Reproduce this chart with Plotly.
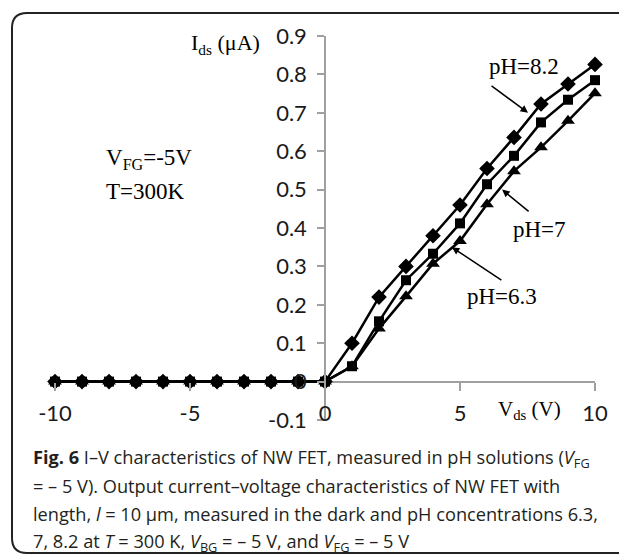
import plotly.graph_objects as go

# I-V data (V_ds in volts, I_ds in uA)
vds = [-10, -9, -8, -7, -6, -5, -4, -3, -2, -1, 0, 1, 2, 3, 4, 5, 6, 7, 8, 9, 10]
ids_ph82 = [0, 0, 0, 0, 0, 0, 0, 0, 0, 0, 0,
            0.10, 0.22, 0.30, 0.38, 0.46, 0.555, 0.636, 0.723, 0.775, 0.826]
ids_ph7 = [0, 0, 0, 0, 0, 0, 0, 0, 0, 0, 0,
           0.04, 0.157, 0.264, 0.333, 0.412, 0.514, 0.588, 0.675, 0.734, 0.785]
ids_ph63 = [0, 0, 0, 0, 0, 0, 0, 0, 0, 0, 0,
            0.04, 0.138, 0.222, 0.307, 0.366, 0.462, 0.548, 0.61, 0.679, 0.751]

xtick_vals = [-10, -5, 0, 5, 10]
xtick_text = ["-10", "-5", "0", "5", "10"]
ytick_vals = [-0.1, 0, 0.1, 0.2, 0.3, 0.4, 0.5, 0.6, 0.7, 0.8, 0.9]
ytick_text = ["-0.1", "0", "0.1", "0.2", "0.3", "0.4", "0.5", "0.6", "0.7", "0.8", "0.9"]

caption = [
    "<b>Fig. 6</b> I–V characteristics of NW FET, measured in pH solutions (<i>V</i><sub>FG</sub>",
    "= – 5 V). Output current–voltage characteristics of NW FET with",
    "length, <i>l</i> = 10 μm, measured in the dark and pH concentrations 6.3,",
    "7, 8.2 at <i>T</i> = 300 K, <i>V</i><sub>BG</sub> = – 5 V, and <i>V</i><sub>FG</sub> = – 5 V",
]

# page body adds an 8px margin, so the figure is 8px smaller and shifted
OFF = 8
W, H = 627 - OFF, 557 - OFF
ML, MT = 55 - OFF, 36 - OFF
PW, PH = 540, 384
MR, MB = W - ML - PW, H - MT - PH
GRAY = "#a0a0a0"
SERIF = "Liberation Serif"
TICKFONT = dict(family="Lato", size=22, color="#1a1a1a")


def px(x):  # window pixel -> paper x
    return (x - OFF - ML) / PW


def py(y):  # window pixel -> paper y
    return (MT + PH - (y - OFF)) / PH


fig = go.Figure()
for ys, sym, size in [(ids_ph82, "diamond", 12), (ids_ph7, "square", 10), (ids_ph63, "triangle-up", 12)]:
    fig.add_trace(go.Scatter(x=vds, y=ys, mode="lines+markers",
                             line=dict(color="black", width=2.5),
                             marker=dict(symbol=sym, size=size, color="black"),
                             cliponaxis=False, showlegend=False))
# empty trace so the tick-label axis is drawn
fig.add_trace(go.Scatter(x=[], y=[], xaxis="x2", showlegend=False))

fig.update_layout(
    width=W, height=H,
    margin=dict(l=ML, r=MR, t=MT, b=MB),
    plot_bgcolor="white", paper_bgcolor="white",
    xaxis=dict(range=[-10, 10], anchor="free", position=0.1,
               tickvals=xtick_vals, ticks="outside", ticklen=8, tickcolor=GRAY, tickwidth=1.5,
               showticklabels=False, showgrid=False, zeroline=False, showline=False),
    xaxis2=dict(range=[-10, 10], overlaying="x", anchor="free", position=0.058, side="bottom",
                tickvals=xtick_vals, ticktext=xtick_text, ticks="", tickfont=TICKFONT,
                showgrid=False, zeroline=False, showline=False),
    yaxis=dict(range=[-0.1, 0.9], anchor="free", position=0.5,
               tickvals=ytick_vals, ticktext=ytick_text, tickfont=TICKFONT,
               ticks="outside", ticklen=7, tickcolor=GRAY, tickwidth=1.5, ticklabelstandoff=6,
               showline=True, linecolor=GRAY, linewidth=1.5,
               zeroline=True, zerolinecolor=GRAY, zerolinewidth=1.5, showgrid=False),
)

txt = dict(family=SERIF, size=23, color="black")
ann = [
    dict(x=-3.7, y=0.88, text="I<sub>ds</sub> (μA)", font=dict(family=SERIF, size=22, color="black")),
    dict(x=-8.2, y=0.58, text="V<sub>FG</sub>=-5V", xanchor="left", font=txt),
    dict(x=-8.2, y=0.496, text="T=300K", xanchor="left", font=txt),
    dict(x=7.37, y=0.82, text="pH=8.2", font=txt),
    dict(x=7.96, y=0.397, text="pH=7", font=txt),
    dict(x=6.56, y=0.222, text="pH=6.3", font=txt),
    dict(x=7.59, y=-0.073, text="V<sub>ds</sub> (V)", font=dict(family=SERIF, size=21, color="black")),
]
for a in ann:
    a.update(xref="x", yref="y", showarrow=False)
    fig.add_annotation(**a)

# label arrows
for hx, hy, ax, ay in [(7.52, 0.70, -38, -28), (6.56, 0.50, 28, 23), (4.70, 0.35, 51, 34)]:
    fig.add_annotation(x=hx, y=hy, ax=ax, ay=ay, xref="x", yref="y", text="",
                       showarrow=True, arrowhead=2, arrowsize=1, arrowwidth=1.5, arrowcolor="black")

# caption lines
for i, line in enumerate(caption):
    fig.add_annotation(x=px(31), y=py(458 + 28 * i), xref="paper", yref="paper",
                       xanchor="left", yanchor="middle", showarrow=False, text=line,
                       font=dict(family="Open Sans", size=18.2, color="#231f20"))

# rounded frame around the figure
x0, x1, y0, y1 = px(12), px(660), py(13), py(553)
rx, ry = 15 / PW, 15 / PH
path = (f"M {x0 + rx} {y0} L {x1} {y0} L {x1} {y1} L {x0 + rx} {y1} "
        f"Q {x0} {y1} {x0} {y1 + ry} L {x0} {y0 - ry} Q {x0} {y0} {x0 + rx} {y0} Z")
fig.add_shape(type="path", path=path, xref="paper", yref="paper",
              line=dict(color="#222", width=2), layer="below")

fig.write_html("out.html")
